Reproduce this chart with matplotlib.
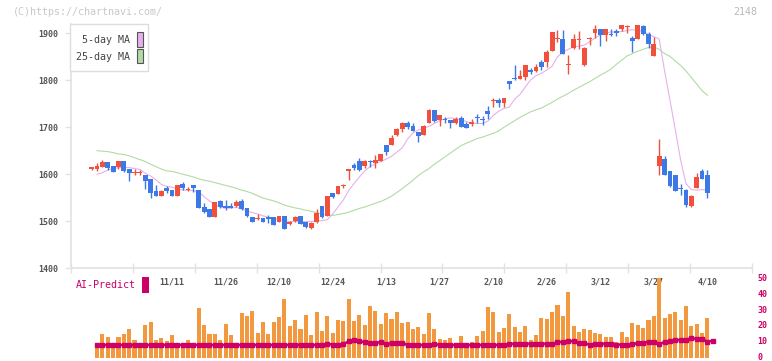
import matplotlib
matplotlib.use("Agg")
import matplotlib.pyplot as plt
from matplotlib.patches import Rectangle
import numpy as np

plt.rcParams['font.family'] = ['DejaVu Sans Mono']

# ---------------- data ----------------
opens = [1612,1611,1616,1626,1617,1616,1628,1611,1603,1603,1598,1589,1564,1554,1570,1566,1554,1579,1567,1577,
         1566,1529,1526,1509,1543,1532,1533,1532,1543,1528,1509,1504,1506,1509,1509,1499,1511,1494,1500,1511,
         1498,1486,1497,1532,1511,1560,1557,1575,1607,1619,1628,1618,1627,1624,1628,1662,1662,1683,1697,1709,
         1702,1690,1683,1709,1736,1716,1717,1715,1709,1719,1706,1706,1720,1717,1735,1756,1757,1752,1799,1804,
         1803,1807,1822,1819,1838,1840,1862,1889,1889,1833,1869,1885,1832,1887,1901,1909,1896,1899,1906,1909,
         1913,1890,1887,1915,1899,1852,1618,1633,1606,1598,1569,1567,1532,1571,1607,1598]
highs = [1615,1623,1631,1626,1617,1628,1628,1611,1612,1609,1598,1589,1576,1566,1574,1566,1577,1583,1573,1577,
         1566,1538,1526,1540,1545,1545,1538,1545,1546,1528,1509,1516,1506,1513,1509,1511,1511,1501,1511,1511,
         1498,1499,1525,1532,1553,1560,1574,1580,1611,1623,1635,1630,1631,1640,1643,1663,1683,1699,1711,1713,
         1708,1690,1704,1738,1736,1726,1722,1715,1721,1725,1711,1717,1728,1723,1745,1763,1763,1763,1799,1832,
         1821,1832,1826,1834,1843,1864,1904,1908,1908,1855,1899,1906,1870,1893,1917,1909,1909,1910,1910,1918,
         1918,1895,1917,1918,1903,1892,1674,1638,1606,1598,1580,1569,1555,1603,1611,1608]
lows = [1609,1607,1616,1609,1605,1610,1605,1586,1598,1598,1568,1550,1554,1553,1560,1554,1554,1566,1564,1562,
        1527,1518,1509,1509,1527,1523,1527,1529,1523,1509,1499,1502,1499,1495,1491,1499,1483,1491,1499,1494,
        1486,1484,1495,1506,1511,1549,1557,1570,1587,1608,1607,1613,1616,1613,1628,1640,1662,1681,1690,1696,
        1691,1669,1683,1709,1711,1702,1708,1699,1706,1701,1699,1702,1709,1705,1718,1743,1743,1743,1782,1801,
        1803,1800,1813,1818,1823,1828,1862,1882,1857,1814,1867,1867,1830,1875,1890,1873,1884,1894,1894,1905,
        1901,1860,1887,1897,1869,1852,1599,1599,1573,1565,1555,1530,1530,1571,1589,1550]
closes = [1613,1617,1626,1613,1605,1628,1607,1603,1604,1604,1586,1559,1554,1564,1565,1554,1577,1570,1568,1571,
          1528,1520,1509,1540,1529,1528,1528,1540,1525,1511,1499,1507,1499,1505,1491,1511,1483,1499,1508,1494,
          1488,1496,1518,1509,1553,1552,1574,1576,1611,1613,1609,1628,1626,1630,1643,1648,1677,1696,1709,1701,
          1692,1682,1702,1736,1713,1726,1716,1709,1718,1701,1699,1711,1719,1715,1728,1757,1752,1763,1793,1803,
          1809,1832,1817,1828,1828,1860,1904,1890,1857,1834,1887,1887,1869,1891,1909,1896,1909,1896,1901,1918,
          1914,1884,1917,1899,1878,1878,1638,1599,1575,1565,1568,1534,1553,1593,1589,1559]

# moving averages, AI-predict and volume start at day index 1
ma5 = [1600,1603,1609,1612,1614,1614,1614,1612,1610,1602,1596,1588,1578,1574,1572,1569,1566,1566,1565,1562,
       1552,1543,1535,1530,1527,1528,1529,1526,1522,1518,1515,1511,1508,1506,1503,1501,1499,1499,1499,1499,
       1499,1500,1501,1503,1515,1530,1545,1565,1580,1594,1607,1616,1622,1627,1632,1638,1647,1656,1675,1688,
       1694,1698,1702,1708,1714,1718,1720,1718,1716,1712,1708,1708,1708,1713,1725,1734,1740,1743,1760,1770,
       1786,1801,1810,1815,1822,1830,1850,1860,1866,1871,1873,1875,1882,1890,1897,1901,1903,1903,1904,1906,
       1908,1906,1904,1898,1893,1888,1820,1758,1695,1630,1580,1567,1566,1567,1566]
ma25 = [1650,1649,1648,1646,1643,1642,1639,1635,1631,1627,1621,1616,1611,1607,1606,1603,1600,1597,1594,1590,
        1587,1585,1582,1579,1576,1573,1570,1566,1563,1559,1554,1549,1546,1543,1539,1534,1531,1528,1526,1523,
        1521,1518,1515,1513,1512,1514,1516,1519,1523,1527,1530,1534,1538,1542,1547,1553,1561,1569,1578,1587,
        1597,1605,1612,1621,1629,1637,1645,1653,1661,1666,1671,1676,1679,1683,1687,1692,1700,1707,1714,1721,
        1727,1733,1737,1741,1747,1753,1760,1766,1772,1779,1785,1791,1797,1804,1811,1817,1824,1834,1843,1852,
        1857,1862,1866,1870,1871,1866,1857,1851,1841,1832,1820,1806,1792,1778,1768]
volume = [7.1,14.4,12.5,5.6,12.5,14.4,17.5,10.6,7.5,20.0,22.1,10.6,11.9,10.0,13.8,8.8,8.8,10.6,8.8,30.6,
          20.0,14.4,14.4,10.6,20.6,13.8,8.8,27.7,25.6,28.8,15.0,22.1,14.4,22.1,25.0,36.3,19.4,23.1,17.5,26.3,
          13.8,28.1,16.3,25.6,15.0,23.1,22.5,36.3,22.5,26.3,20.0,31.9,28.8,20.6,27.7,23.8,28.1,21.3,21.9,17.5,
          18.8,14.4,27.5,17.5,11.3,10.6,11.9,8.8,13.1,8.5,9.4,13.1,16.3,31.3,28.1,15.6,18.1,26.9,18.8,15.6,
          19.4,10.6,13.8,24.4,23.8,28.1,32.5,25.6,40.6,19.4,15.6,17.5,16.9,15.0,14.4,12.5,12.5,9.4,15.6,12.5,
          21.3,20.0,18.1,23.1,25.6,49.4,24.4,26.9,28.1,23.1,31.9,19.4,20.6,15.0,24.4]
ai_predict = [7.3]*43 + [8.1,7.5,7.5,8.0,9.5,10.2,9.8,9.0,8.3,8.5,9.2,7.8,8.3,8.8,8.7,
              7.3,7.3,7.3,7.3,7.3,8.0] + [7.3]*13 + [8.0] + [8.1]*8 + \
             [9.0,9.3,9.9,9.6,8.8,8.4,7.5,8.1,8.1,8.1,8.1,7.5,7.5,7.5,7.6,8.6,8.8,9.3,8.9,7.6,
              9.3,9.5,10.6,10.2,10.7,11.5,11.2,10.9,9.4,10.0]

date_labels = ["11/11","11/26","12/10","12/24","1/13","1/27","2/10","2/26","3/12","3/27","4/10"]
label_idx = [15,25,35,45,55,65,75,85,95,105,115]
price_ticks = [1400,1500,1600,1700,1800,1900]
vol_ticks = [0,10,20,30,40,50]

# ---------------- styling ----------------
UP = '#f0503c'
DOWN = '#3c78e6'
PINK = '#e6b0ea'
GREEN = '#b2daa6'
ORANGE = '#f2983e'
MAG = '#cc0066'
AXC = '#e2e2e2'
TXT = '#555555'

W, H = 772, 361
fig = plt.figure(figsize=(W/100, H/100), dpi=100)
fig.patch.set_facecolor('white')

def fx(px): return px / W
def fy(py): return 1 - py / H

# pixel geometry of the plot
x_left, x_right = 71, 752
first_px, step_px = 91.7, 5.354
xmin = (x_left - first_px) / step_px
xmax = (x_right - first_px) / step_px

ax = fig.add_axes([fx(x_left), fy(268), fx(x_right) - fx(x_left), fy(24) - fy(268)])
ax.set_xlim(xmin, xmax)
ax.set_ylim(1400, 1920)

n = len(opens)
idx = np.arange(n)
o = np.array(opens, float); c = np.array(closes, float)
h = np.array(highs, float); l = np.array(lows, float)
up = c >= o
cols = np.where(up, UP, DOWN)
bottom = np.minimum(o, c)
height = np.maximum(np.abs(c - o), 2.2)

ma_x = np.arange(1, 1 + len(ma5))
ax.plot(ma_x, ma25, color=GREEN, lw=0.8, zorder=1)
ax.plot(ma_x, ma5, color=PINK, lw=0.8, zorder=1)

ax.vlines(idx, l, h, colors=cols, lw=1.0, zorder=2)
ax.bar(idx, height, bottom=bottom, width=0.9, color=cols, linewidth=0, zorder=3)

# axes styling
for s in ['top', 'right']:
    ax.spines[s].set_visible(False)
ax.spines['left'].set_color(AXC)
ax.spines['bottom'].set_color(AXC)
ax.spines['left'].set_linewidth(1.2)
ax.spines['bottom'].set_linewidth(1.2)

ax.set_yticks(price_ticks)
ax.set_yticklabels([str(t) for t in price_ticks])
ax.tick_params(axis='y', direction='out', length=4, width=1, color=AXC, pad=5,
               labelsize=6, labelcolor=TXT)
for t in ax.get_yticklabels():
    t.set_fontweight('bold')

ax.set_xticks(np.linspace(xmin, xmax, 12))
ax.set_xticklabels([])
ax.tick_params(axis='x', which='major', direction='inout', length=7, width=1, color=AXC)
ax.set_xticks(label_idx, minor=True)
ax.set_xticklabels(date_labels, minor=True)
ax.tick_params(axis='x', which='minor', length=0, pad=7, labelsize=6, labelcolor=TXT)
for t in ax.get_xticklabels(minor=True):
    t.set_fontweight('bold')

# ---------------- volume panel ----------------
vax = fig.add_axes([fx(x_left), fy(356.5), fx(x_right) - fx(x_left), fy(277.5) - fy(356.5)])
vax.set_zorder(5)
vax.patch.set_alpha(0)
vax.set_xlim(xmin, xmax)
vax.set_ylim(0, 50)
vx = np.arange(1, 1 + len(volume))
vax.bar(vx, volume, bottom=0, width=0.76, color=ORANGE, linewidth=0, clip_on=False, zorder=1)
# extend bars down to the panel floor like the reference
vax.bar(vx, [1.0]*len(volume), bottom=-1.0, width=0.76, color=ORANGE, linewidth=0,
        clip_on=False, zorder=1)
vax.plot(np.arange(1, 1 + len(ai_predict)), ai_predict, color=MAG, lw=1.8,
         marker='s', ms=2.2, zorder=2)
for s in vax.spines.values():
    s.set_visible(False)
vax.set_xticks([])
vax.yaxis.tick_right()
vax.set_yticks(vol_ticks)
vax.set_yticklabels([str(v) for v in vol_ticks])
vax.tick_params(axis='y', length=0, pad=4, labelsize=6, labelcolor=MAG)
for t in vax.get_yticklabels():
    t.set_fontweight('bold')

# ---------------- texts / legend ----------------
fig.text(fx(13), fy(12), "(C)https://chartnavi.com/", fontsize=7.2, color='#c8c8c8',
         ha='left', va='center')
fig.text(fx(757), fy(12), "2148", fontsize=7.2, color='#b8b8b8', ha='right', va='center')

# legend box
fig.patches.append(Rectangle((fx(70), fy(71)), fx(148) - fx(70), fy(24) - fy(71),
                             transform=fig.transFigure, facecolor='white', edgecolor='#dddddd',
                             lw=1.0, zorder=10))
fig.text(fx(130), fy(40), "5-day MA", fontsize=7.2, color='#444444', ha='right', va='center', zorder=11)
fig.text(fx(130), fy(57), "25-day MA", fontsize=7.2, color='#444444', ha='right', va='center', zorder=11)
fig.patches.append(Rectangle((fx(137), fy(46.5)), fx(142.5) - fx(137), fy(32) - fy(46.5),
                             transform=fig.transFigure, facecolor=PINK, edgecolor='#555555',
                             lw=0.8, zorder=11))
fig.patches.append(Rectangle((fx(137), fy(63)), fx(142.5) - fx(137), fy(49) - fy(63),
                             transform=fig.transFigure, facecolor=GREEN, edgecolor='#555555',
                             lw=0.8, zorder=11))

fig.text(fx(75.5), fy(285.5), "AI-Predict", fontsize=7.2, color=MAG, ha='left', va='center')
fig.patches.append(Rectangle((fx(142), fy(293)), fx(149) - fx(142), fy(277) - fy(293),
                             transform=fig.transFigure, facecolor=MAG, edgecolor='none', zorder=10))

fig.savefig("out.png", dpi=100, facecolor='white')
